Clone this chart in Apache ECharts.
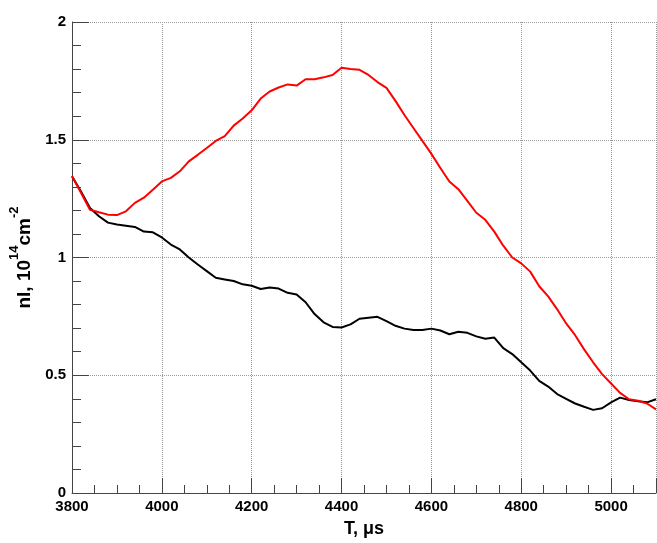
<!DOCTYPE html>
<html>
<head>
<meta charset="utf-8">
<script src="https://cdn.jsdelivr.net/npm/echarts@6/dist/echarts.min.js"></script>
<style>
  html, body { margin: 0; padding: 0; background: #fff; }
  #chart { width: 657px; height: 543px; }
</style>
</head>
<body>
<div id="chart"></div>
<script>
// время, мкс
const times = [
  3800, 3820, 3840, 3860, 3880, 3900, 3920, 3940, 3960, 3980,
  4000, 4020, 4040, 4060, 4080, 4100, 4120, 4140, 4160, 4180,
  4200, 4220, 4240, 4260, 4280, 4300, 4320, 4340, 4360, 4380,
  4400, 4420, 4440, 4460, 4480, 4500, 4520, 4540, 4560, 4580,
  4600, 4620, 4640, 4660, 4680, 4700, 4720, 4740, 4760, 4780,
  4800, 4820, 4840, 4860, 4880, 4900, 4920, 4940, 4960, 4980,
  5000, 5020, 5040, 5060, 5080, 5100
];

// чёрная кривая
const blackValues = [
  1.345, 1.28, 1.21, 1.175, 1.148, 1.14, 1.135, 1.13, 1.11, 1.107,
  1.085, 1.055, 1.034, 1.0, 0.97, 0.942, 0.914, 0.907, 0.9, 0.886,
  0.88, 0.866, 0.873, 0.868, 0.85, 0.843, 0.81, 0.76, 0.725, 0.705,
  0.703, 0.716, 0.74, 0.744, 0.748, 0.73, 0.71, 0.698, 0.692, 0.692,
  0.698, 0.69, 0.674, 0.685, 0.68, 0.665, 0.655, 0.66, 0.615, 0.59,
  0.555, 0.52, 0.476, 0.452, 0.42, 0.40, 0.38, 0.366, 0.353, 0.36,
  0.385, 0.405, 0.395, 0.39, 0.385, 0.398
];

// красная кривая
const redValues = [
  1.345, 1.275, 1.203, 1.192, 1.182, 1.18, 1.196, 1.232, 1.254, 1.288,
  1.323, 1.338, 1.366, 1.408, 1.436, 1.465, 1.495, 1.515, 1.56, 1.59,
  1.625, 1.675, 1.705, 1.722, 1.735, 1.73, 1.757, 1.757, 1.765, 1.775,
  1.806, 1.80, 1.797, 1.775, 1.745, 1.72, 1.665, 1.605, 1.55, 1.495,
  1.44, 1.38, 1.323, 1.29, 1.24, 1.19, 1.16, 1.11, 1.05, 1.0,
  0.975, 0.94, 0.878, 0.835, 0.78, 0.72, 0.67, 0.61, 0.555, 0.505,
  0.465, 0.425, 0.398, 0.392, 0.38, 0.355
];

const chart = echarts.init(document.getElementById('chart'));

const font = 'Liberation Sans, Arial, sans-serif';
const grid = { lineStyle: { color: '#999', type: 'dotted', width: 1 } };

const option = {
  animation: false,
  grid: { left: 72, right: 1, top: 22, bottom: 49, containLabel: false },
  xAxis: {
    type: 'value',
    min: 3800,
    max: 5100,
    interval: 200,
    name: 'T, \u03bcs',
    nameLocation: 'middle',
    nameGap: 27,
    nameTextStyle: { fontFamily: font, fontWeight: 'bold', fontSize: 18, color: '#000' },
    axisLine: { lineStyle: { color: '#e00', width: 1 } },
    axisTick: { inside: true, length: 15, lineStyle: { color: '#444' } },
    minorTick: { show: true, splitNumber: 4, length: 8, lineStyle: { color: '#444' } },
    axisLabel: { fontFamily: font, fontWeight: 'bold', fontSize: 15, color: '#000', margin: 6,
      showMaxLabel: false, formatter: v => String(v) },
    splitLine: { show: true, ...grid }
  },
  yAxis: {
    type: 'value',
    min: 0,
    max: 2,
    interval: 0.5,
    name: '{a|nI, 10}{s|14}{a|cm}{s|-2}',
    nameLocation: 'middle',
    nameGap: 36,
    nameTextStyle: {
      rich: {
        a: { fontFamily: font, fontWeight: 'bold', fontSize: 19, color: '#000', verticalAlign: 'bottom', lineHeight: 26 },
        s: { fontFamily: font, fontWeight: 'bold', fontSize: 13, color: '#000', verticalAlign: 'top', lineHeight: 26 }
      }
    },
    axisLine: { show: true, lineStyle: { color: '#444', width: 1 } },
    axisTick: { inside: true, length: 17, lineStyle: { color: '#444' } },
    minorTick: { show: true, splitNumber: 5, length: 9, lineStyle: { color: '#444' } },
    axisLabel: { fontFamily: font, fontWeight: 'bold', fontSize: 15, color: '#000', margin: 6 },
    splitLine: { show: true, ...grid }
  },
  series: [
    {
      name: 'black',
      type: 'line',
      symbol: 'none',
      data: times.map((t, i) => [t, blackValues[i]]),
      lineStyle: { color: '#000', width: 2 }
    },
    {
      name: 'red',
      type: 'line',
      symbol: 'none',
      data: times.map((t, i) => [t, redValues[i]]),
      lineStyle: { color: '#ff0000', width: 2 }
    }
  ]
};

chart.setOption(option);
</script>
</body>
</html>
